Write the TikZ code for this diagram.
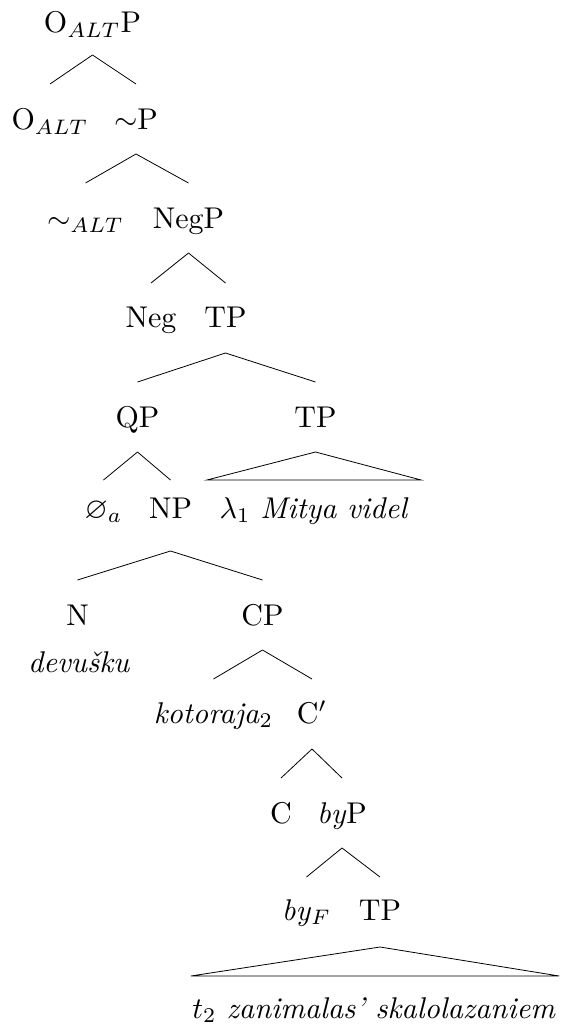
\documentclass[tikz,border=0pt]{standalone}
\usepackage{amssymb}
\usetikzlibrary{calc}
\tikzset{
  lab/.style={anchor=base, font=\fontsize{10}{12}\selectfont, scale=3, inner sep=0pt},
  branch/.style={line width=0.8pt, line join=miter}
}
\newcommand\tedge[4]{\draw[branch] ($(#1.base)+(0,#3)$) -- ($(#2.base)+(0,-#4)$);}
\begin{document}
\begin{tikzpicture}[x=1pt,y=-1pt]
\useasboundingbox (0,0) rectangle (561,1027);
% nodes
\node[lab] (root) at (92.5,33) {O$_{ALT}$P};
\node[lab] (oalt) at (50,130) {O$_{ALT}$};
\node[lab] (tildep) at (136,130) {$\sim$P};
\node[lab] (talt) at (85.5,228) {$\sim_{ALT}$};
\node[lab] (negp) at (188.5,228) {NegP};
\node[lab] (neg) at (151,327) {Neg};
\node[lab] (tpa) at (225.5,327) {TP};
\node[lab] (qp) at (137.5,427) {QP};
\node[lab] (tpb) at (315.5,427) {TP};
\node[lab] (empty) at (103.5,518) {$\varnothing_a$};
\node[lab] (np) at (170.5,518) {NP};
\node[lab] (lam) at (314,518) {$\lambda_1$ \textit{Mitya videl}};
\node[lab] (n) at (77.5,625) {N};
\node[lab] (dev) at (79,672) {\textit{devušku}};
\node[lab] (cp) at (262.5,625) {CP};
\node[lab] (kot) at (213.5,723) {\textit{kotoraja}$_2$};
\node[lab] (cbar) at (312,723) {C$'$};
\node[lab] (c) at (281,823) {C};
\node[lab] (byp) at (342,823) {\textit{by}P};
\node[lab] (byf) at (306.5,920) {\textit{by}$_F$};
\node[lab] (tpc) at (380,920) {TP};
\node[lab] (t2) at (374,1018) {$t_2$ \textit{zanimalas' skalolazaniem}};
% edges
\tedge{root}{oalt}{22}{46}
\tedge{root}{tildep}{22}{46}
\tedge{tildep}{talt}{24}{45}
\tedge{tildep}{negp}{24}{45}
\tedge{negp}{neg}{25}{44}
\tedge{negp}{tpa}{25}{44}
\tedge{tpa}{qp}{26}{45}
\tedge{tpa}{tpb}{26}{45}
\tedge{qp}{empty}{25}{38}
\tedge{qp}{np}{25}{38}
\tedge{np}{n}{33}{45}
\tedge{np}{cp}{33}{45}
\tedge{cp}{kot}{25}{44}
\tedge{cp}{cbar}{25}{44}
\tedge{cbar}{c}{26}{45}
\tedge{cbar}{byp}{26}{45}
\tedge{byp}{byf}{25}{43}
\tedge{byp}{tpc}{25}{43}
% triangles
\draw[branch] ($(lam.base west)+(-12,-38)$) -- ($(tpb.base)+(0,25)$) -- ($(lam.base east)+(12,-38)$) -- cycle;
\draw[branch] ($(t2.base west)+(-1,-42)$) -- ($(tpc.base)+(0,27)$) -- ($(t2.base east)+(3,-42)$) -- cycle;
\end{tikzpicture}
\end{document}
